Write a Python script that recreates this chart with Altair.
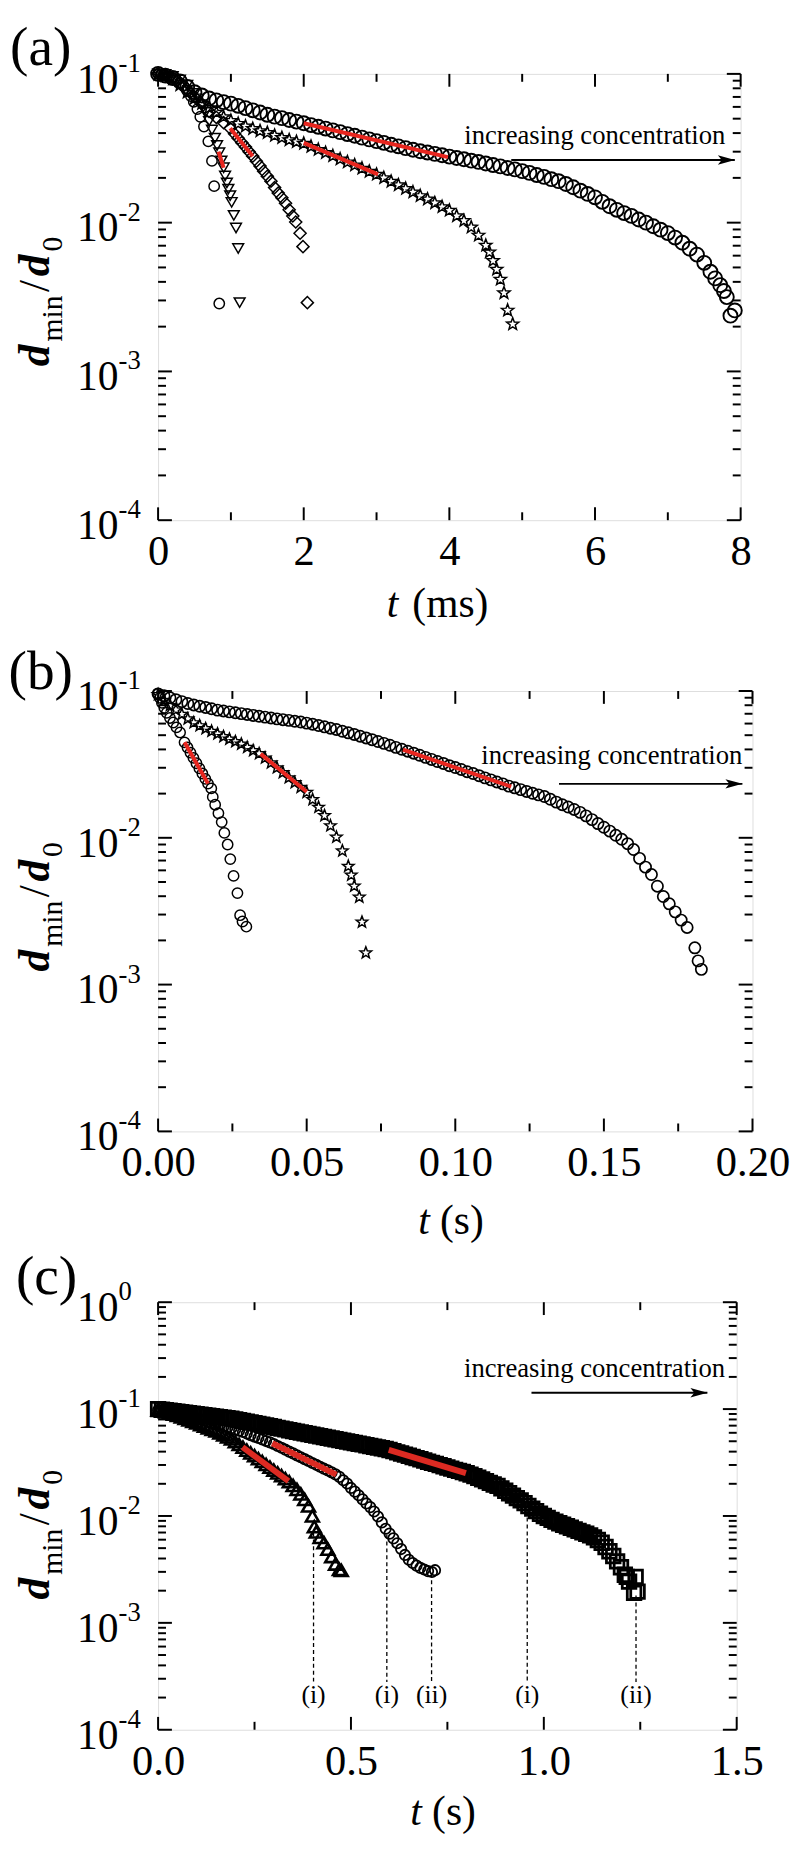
import math
import altair as alt
import pandas as pd

FONT = "Liberation Serif"

# ================= panel (a): t in ms =================
a_circ_t = [0.0, 0.05, 0.1, 0.15, 0.2, 0.25, 0.3, 0.35, 0.4, 0.45, 0.49, 0.54, 0.58, 0.63, 0.69, 0.74, 0.77, 0.84]
a_circ_d = [0.100, 0.099, 0.098, 0.096, 0.094, 0.091, 0.087, 0.083, 0.077, 0.071, 0.065, 0.058, 0.0515, 0.0443, 0.0352, 0.026, 0.0176, 0.00286]

a_tri_t = [0.0, 0.1, 0.2, 0.3, 0.4, 0.5, 0.55, 0.6, 0.65, 0.7,
           0.74, 0.78, 0.81, 0.84, 0.87, 0.9, 0.92, 0.945, 0.965, 0.99,
           1.01, 1.04, 1.07, 1.1, 1.12]
a_tri_d = [0.1, 0.099, 0.096, 0.091, 0.084, 0.074, 0.068, 0.062, 0.055, 0.048,
           0.042, 0.037, 0.033, 0.0295, 0.026, 0.0234, 0.0206, 0.0185, 0.0168, 0.0152,
           0.0137, 0.0112, 0.0092, 0.0067, 0.0029]

a_dia_t = [0.0, 0.1, 0.2, 0.3, 0.4, 0.5, 0.6, 0.7, 0.8, 0.9,
           0.99, 1.05, 1.1, 1.15, 1.2, 1.25, 1.3, 1.35, 1.4, 1.45,
           1.5, 1.55, 1.6, 1.65, 1.7, 1.75, 1.8, 1.85, 1.89, 1.95,
           1.99, 2.05]
a_dia_d = [0.1, 0.098, 0.094, 0.087, 0.079, 0.070, 0.063, 0.056, 0.051, 0.047,
           0.0431, 0.0396, 0.037, 0.0345, 0.0322, 0.030, 0.028, 0.0259, 0.024, 0.0222,
           0.0205, 0.019, 0.0172, 0.0158, 0.0147, 0.0135, 0.0122, 0.0111, 0.0101, 0.0085,
           0.0069, 0.0029]

a_star_t = [0.0, 0.1, 0.2, 0.3, 0.4, 0.5, 0.6, 0.7, 0.8, 0.9,
            1.0, 1.1, 1.2, 1.3, 1.4, 1.5, 1.6, 1.7, 1.8, 1.9,
            2.0, 2.1, 2.2, 2.3, 2.4, 2.5, 2.6, 2.7, 2.8, 2.9,
            3.0, 3.1, 3.2, 3.3, 3.4, 3.5, 3.6, 3.7, 3.8, 3.9,
            4.0, 4.1, 4.2, 4.3, 4.4, 4.5,
            4.55, 4.6, 4.65, 4.7, 4.75, 4.8, 4.87]
a_star_d = [0.1, 0.0977, 0.0933, 0.0851, 0.0759, 0.0692, 0.0638, 0.0596, 0.0556, 0.0519,
            0.049, 0.0468, 0.0449, 0.0432, 0.0417, 0.0406, 0.0389, 0.0376, 0.0363, 0.0353,
            0.0344, 0.0328, 0.0313, 0.0298, 0.0284, 0.027, 0.0258, 0.0246, 0.0234, 0.0223,
            0.0213, 0.0202, 0.0191, 0.0181, 0.0171, 0.0162, 0.0153, 0.0145, 0.0137, 0.0129,
            0.0122, 0.0112, 0.0104, 0.0094, 0.0083, 0.0071,
            0.0064, 0.0056, 0.0049, 0.0042, 0.0034, 0.0026, 0.0021]

a_big_t = [0.0, 0.1, 0.2, 0.3, 0.4, 0.5, 0.6, 0.7, 0.8, 0.9,
           1.0, 1.1, 1.2, 1.3, 1.4, 1.5, 1.6, 1.7, 1.8, 1.9,
           2.0, 2.1, 2.2, 2.3, 2.4, 2.5, 2.6, 2.7, 2.8, 2.9,
           3.0, 3.1, 3.2, 3.3, 3.4, 3.5, 3.6, 3.7, 3.8, 3.9,
           4.0, 4.1, 4.2, 4.3, 4.4, 4.5, 4.6, 4.7, 4.8, 4.9,
           5.0, 5.1, 5.2, 5.3, 5.4, 5.5, 5.6, 5.7, 5.8, 5.9,
           6.0, 6.1, 6.2, 6.3, 6.4, 6.5, 6.6, 6.7, 6.8, 6.9,
           7.0, 7.1, 7.2, 7.3, 7.4, 7.5,
           7.585, 7.65, 7.72, 7.77, 7.81, 7.86, 7.92]
a_big_d = [0.100, 0.0973, 0.0938, 0.0891, 0.0818, 0.0753, 0.0716, 0.0684, 0.0664, 0.0646,
           0.0631, 0.061, 0.0589, 0.0569, 0.055, 0.0531, 0.0516, 0.0504, 0.049, 0.0478,
           0.0466, 0.0453, 0.0441, 0.0429, 0.0417, 0.0406, 0.0394, 0.0384, 0.0373, 0.0363,
           0.0353, 0.0344, 0.0334, 0.0326, 0.0317, 0.0309, 0.0302, 0.0296, 0.029, 0.0284,
           0.0278, 0.0272, 0.0267, 0.0261, 0.0256, 0.025, 0.0244, 0.0239, 0.0233, 0.0228,
           0.0222, 0.0216, 0.0209, 0.0203, 0.0196, 0.019, 0.0182, 0.0173, 0.0164, 0.0156,
           0.0148, 0.0138, 0.0129, 0.0122, 0.0116, 0.0111, 0.0105, 0.0100, 0.00946, 0.00897,
           0.00851, 0.00794, 0.00733, 0.00668, 0.0061, 0.00537,
           0.00468, 0.00422, 0.0038, 0.00347, 0.00316, 0.00237, 0.00257]

# red fitted segments (a): start t, start d, end t, end d
a_fit_t0 = [0.83, 0.99, 2.0, 2.0]
a_fit_d0 = [0.030, 0.0431, 0.0344, 0.0466]
a_fit_t1 = [0.90, 1.30, 3.02, 3.98]
a_fit_d1 = [0.0234, 0.028, 0.0211, 0.0276]

# ================= panel (b): t in s =================
b_circ_t = [0.0, 0.0006, 0.0013, 0.0021, 0.0029, 0.0040, 0.0051, 0.0062, 0.0074, 0.0089,
            0.0099, 0.0109, 0.0119, 0.0129, 0.0139, 0.0149, 0.0159, 0.0168, 0.0179, 0.0184,
            0.0192, 0.0203, 0.0214, 0.0223, 0.0234, 0.0243, 0.0254, 0.0267, 0.0276, 0.0284,
            0.0297]
b_circ_d = [0.0955, 0.0897, 0.083, 0.0768, 0.0711, 0.0655, 0.061, 0.0565, 0.0522, 0.0447,
            0.0412, 0.038, 0.035, 0.0322, 0.0297, 0.0274, 0.0252, 0.0234, 0.0217, 0.019,
            0.0168, 0.0147, 0.0128, 0.0108, 0.009, 0.00716, 0.0055, 0.0042, 0.00297, 0.00269,
            0.00248]

b_star_t = [0.000, 0.002, 0.004, 0.006, 0.008, 0.010, 0.012, 0.014, 0.016, 0.018,
            0.020, 0.022, 0.024, 0.026, 0.028, 0.030, 0.032, 0.034, 0.036, 0.038,
            0.040, 0.042, 0.044, 0.046, 0.048, 0.050, 0.052, 0.054, 0.056, 0.058,
            0.060, 0.062, 0.064, 0.065, 0.066, 0.0677, 0.0686, 0.0699]
b_star_d = [0.0955, 0.0871, 0.0804, 0.075, 0.07, 0.0653, 0.0614, 0.0586, 0.056, 0.0537,
            0.0515, 0.0494, 0.0475, 0.0457, 0.0439, 0.0417, 0.0396, 0.0378, 0.0353, 0.0327,
            0.0303, 0.0281, 0.0259, 0.024, 0.0223, 0.0206, 0.0184, 0.0163, 0.0143, 0.0122,
            0.0102, 0.00822, 0.00646, 0.00562, 0.00473, 0.00398, 0.00269, 0.00166]

b_big_t = [0.000, 0.002, 0.004, 0.006, 0.008, 0.010, 0.012, 0.014, 0.016, 0.018,
           0.020, 0.022, 0.024, 0.026, 0.028, 0.030, 0.032, 0.034, 0.036, 0.038,
           0.040, 0.042, 0.044, 0.046, 0.048, 0.050, 0.052, 0.054, 0.056, 0.058,
           0.060, 0.062, 0.064, 0.066, 0.068, 0.070, 0.072, 0.074, 0.076, 0.078,
           0.080, 0.082, 0.084, 0.086, 0.088, 0.090, 0.092, 0.094, 0.096, 0.098,
           0.100, 0.102, 0.104, 0.106, 0.108, 0.110, 0.112, 0.114, 0.116, 0.118,
           0.120, 0.122, 0.124, 0.126, 0.128, 0.130, 0.132, 0.134, 0.136, 0.138,
           0.140, 0.142, 0.144, 0.146, 0.148, 0.150, 0.152, 0.154, 0.156, 0.158,
           0.160, 0.162, 0.164, 0.166, 0.168, 0.170, 0.172, 0.174, 0.176, 0.178,
           0.1806, 0.1817, 0.1828]
b_big_d = [0.0955, 0.0927, 0.0899, 0.0873, 0.0847, 0.0822, 0.0804, 0.0787, 0.0773, 0.0757,
           0.0741, 0.0731, 0.0721, 0.0711, 0.0701, 0.0692, 0.0682, 0.0673, 0.0664, 0.0655,
           0.0646, 0.0638, 0.0631, 0.0622, 0.0615, 0.0604, 0.0594, 0.0582, 0.057, 0.0558,
           0.0547, 0.0532, 0.0519, 0.0506, 0.0492, 0.0479, 0.0466, 0.0453, 0.044, 0.0427,
           0.0413, 0.0401, 0.0389, 0.0377, 0.0365, 0.0353, 0.0342, 0.0331, 0.0321, 0.031,
           0.0301, 0.0292, 0.0282, 0.0274, 0.0265, 0.0256, 0.0248, 0.024, 0.0233, 0.0225,
           0.0219, 0.0213, 0.0207, 0.0201, 0.0196, 0.0191, 0.0183, 0.0175, 0.0168, 0.0162,
           0.0156, 0.0149, 0.0141, 0.0133, 0.0125, 0.0118, 0.0111, 0.0104, 0.00977, 0.00912,
           0.00832, 0.00724, 0.00631, 0.00562, 0.00468, 0.00398, 0.00355, 0.00313, 0.00275, 0.00245,
           0.00178, 0.00145, 0.00127]

b_fit_t0 = [0.0089, 0.0345, 0.0824]
b_fit_d0 = [0.0447, 0.0373, 0.0399]
b_fit_t1 = [0.0168, 0.050, 0.1188]
b_fit_d1 = [0.0234, 0.0206, 0.0223]

# ================= panel (c): t in s =================
c_tri_t = [0.00, 0.01, 0.02, 0.03, 0.04, 0.05, 0.06, 0.07, 0.08, 0.09,
           0.10, 0.11, 0.12, 0.13, 0.14, 0.15, 0.16, 0.17, 0.18, 0.19,
           0.20, 0.21, 0.22, 0.23, 0.24, 0.25, 0.26, 0.27, 0.28, 0.29,
           0.30, 0.31, 0.32, 0.33, 0.34, 0.35, 0.36, 0.37, 0.38, 0.39,
           0.40, 0.405, 0.41, 0.42, 0.43, 0.44, 0.45, 0.46, 0.47, 0.475]
c_tri_d = [0.0977, 0.0959, 0.0942, 0.092, 0.0897, 0.0871, 0.0845, 0.0818, 0.0793, 0.0766,
           0.0741, 0.0716, 0.0692, 0.0668, 0.0646, 0.0624, 0.06, 0.0575, 0.055, 0.0525,
           0.0495, 0.0467, 0.044, 0.0413, 0.0389, 0.0366, 0.0344, 0.0324, 0.0304, 0.0286,
           0.0269, 0.0253, 0.0238, 0.0224, 0.0209, 0.0193, 0.0177, 0.0161, 0.0143, 0.0124,
           0.0100, 0.00794, 0.00708, 0.00631, 0.00562, 0.0049, 0.00417, 0.00355, 0.00316, 0.00309]

c_circ_t = [0.00, 0.01, 0.02, 0.03, 0.04, 0.05, 0.06, 0.07, 0.08, 0.09,
            0.10, 0.11, 0.12, 0.13, 0.14, 0.15, 0.16, 0.17, 0.18, 0.19,
            0.20, 0.21, 0.22, 0.23, 0.24, 0.25, 0.26, 0.27, 0.28, 0.29,
            0.30, 0.31, 0.32, 0.33, 0.34, 0.35, 0.36, 0.37, 0.38, 0.39,
            0.40, 0.41, 0.42, 0.43, 0.44, 0.45, 0.46, 0.47, 0.48, 0.49,
            0.50, 0.51, 0.52, 0.53, 0.54, 0.55, 0.56, 0.57, 0.58, 0.59,
            0.60, 0.61, 0.62, 0.63, 0.64, 0.65, 0.66, 0.67, 0.68, 0.69,
            0.70, 0.71, 0.718]
c_circ_d = [0.0977, 0.0962, 0.0946, 0.0931, 0.0916, 0.0902, 0.0887, 0.0873, 0.0857, 0.0839,
            0.0822, 0.0802, 0.078, 0.0759, 0.0741, 0.0724, 0.0708, 0.0692, 0.0676, 0.0661,
            0.0646, 0.0628, 0.061, 0.059, 0.0571, 0.0553, 0.0536, 0.0519, 0.0502, 0.0488,
            0.0471, 0.0452, 0.0435, 0.0417, 0.04, 0.0385, 0.0369, 0.0354, 0.034, 0.0327,
            0.0313, 0.0301, 0.0289, 0.0277, 0.0267, 0.0256, 0.0245, 0.0232, 0.0216, 0.0201,
            0.0183, 0.0169, 0.0156, 0.0143, 0.0131, 0.0121, 0.011, 0.00989, 0.00871, 0.00759,
            0.00684, 0.00617, 0.00556, 0.0049, 0.00432, 0.00389, 0.00363, 0.00343, 0.00327, 0.00316,
            0.00305, 0.00299, 0.00311]

c_sq_t = [0.00, 0.01, 0.02, 0.03, 0.04, 0.05, 0.06, 0.07, 0.08, 0.09,
          0.10, 0.11, 0.12, 0.13, 0.14, 0.15, 0.16, 0.17, 0.18, 0.19,
          0.20, 0.21, 0.22, 0.23, 0.24, 0.25, 0.26, 0.27, 0.28, 0.29,
          0.30, 0.31, 0.32, 0.33, 0.34, 0.35, 0.36, 0.37, 0.38, 0.39,
          0.40, 0.41, 0.42, 0.43, 0.44, 0.45, 0.46, 0.47, 0.48, 0.49,
          0.50, 0.51, 0.52, 0.53, 0.54, 0.55, 0.56, 0.57, 0.58, 0.59,
          0.60, 0.61, 0.62, 0.63, 0.64, 0.65, 0.66, 0.67, 0.68, 0.69,
          0.70, 0.71, 0.72, 0.73, 0.74, 0.75, 0.76, 0.77, 0.78, 0.79,
          0.80, 0.81, 0.82, 0.83, 0.84, 0.85, 0.86, 0.87, 0.88, 0.89,
          0.90, 0.91, 0.92, 0.93, 0.94, 0.95, 0.96, 0.97, 0.98, 0.99,
          1.00, 1.01, 1.02, 1.03, 1.04, 1.05, 1.06, 1.07, 1.08, 1.09,
          1.10, 1.11, 1.12, 1.13, 1.14, 1.15, 1.16, 1.17, 1.18, 1.19,
          1.20, 1.21, 1.215, 1.221, 1.234, 1.238, 1.243]
c_sq_d = [0.1, 0.0989, 0.0977, 0.0966, 0.0955, 0.0946, 0.0935, 0.0925, 0.0914, 0.0906,
          0.0895, 0.0885, 0.0875, 0.0867, 0.0857, 0.0849, 0.0839, 0.0832, 0.0822, 0.0815,
          0.0802, 0.0789, 0.0776, 0.0762, 0.075, 0.0738, 0.0726, 0.0713, 0.0702, 0.069,
          0.0679, 0.0667, 0.0656, 0.0646, 0.0634, 0.0624, 0.0614, 0.0604, 0.0594, 0.0585,
          0.0575, 0.0566, 0.0557, 0.0548, 0.054, 0.0531, 0.0522, 0.0514, 0.0506, 0.0498,
          0.049, 0.0482, 0.0474, 0.0467, 0.0459, 0.0452, 0.0444, 0.0437, 0.043, 0.0423,
          0.0414, 0.0404, 0.0394, 0.0384, 0.0375, 0.0366, 0.0356, 0.0348, 0.0339, 0.033,
          0.0322, 0.0314, 0.0307, 0.0299, 0.0292, 0.0284, 0.0277, 0.027, 0.0264, 0.0258,
          0.0251, 0.0244, 0.0236, 0.0228, 0.022, 0.0212, 0.0204, 0.0197, 0.0191, 0.0181,
          0.0172, 0.0163, 0.0155, 0.0147, 0.014, 0.0132, 0.0124, 0.0117, 0.0111, 0.0105,
          0.01, 0.0096, 0.0092, 0.00885, 0.00855, 0.00828, 0.00802, 0.00776, 0.0075, 0.00726,
          0.00703, 0.00681, 0.00658, 0.00631, 0.00596, 0.00562, 0.00513, 0.00468, 0.00422, 0.00376,
          0.00331, 0.00282, 0.00269, 0.00243, 0.00191, 0.00269, 0.00196]

c_fit_t0 = [0.219, 0.296, 0.598]
c_fit_d0 = [0.044, 0.0479, 0.0416]
c_fit_t1 = [0.338, 0.462, 0.798]
c_fit_d1 = [0.0212, 0.0244, 0.0252]

# dashed markers (c)
c_mark_t = [0.403, 0.593, 0.709, 0.957, 1.239]
c_mark_top = [0.0070, 0.0067, 0.0029, 0.0112, 0.0018]
c_mark_bot = [0.00028, 0.00028, 0.00028, 0.00028, 0.00028]
c_mark_lab = ["(i)", "(i)", "(ii)", "(i)", "(ii)"]
c_mark_laby = [0.00021, 0.00021, 0.00021, 0.00021, 0.00021]

# "increasing concentration": text right t, text baseline d, arrow t0, arrow t1, arrow d
arrow_a = [7.79, 0.0338, 4.85, 7.92, 0.0264]
arrow_b = [0.1966, 0.0318, 0.1349, 0.1966, 0.0233]
arrow_c = [1.47, 0.198, 0.968, 1.424, 0.142]

# axis ticks
a_xmaj = [0, 2, 4, 6, 8]
a_xmin = [1, 3, 5, 7]
b_xmaj = [0, 0.05, 0.10, 0.15, 0.20]
b_xmin = [0.025, 0.075, 0.125, 0.175]
c_xmaj = [0, 0.5, 1.0, 1.5]
c_xmin = [0.25, 0.75, 1.25]
ab_ydec = [1e-1, 1e-2, 1e-3, 1e-4]
ab_yexp = ["-1", "-2", "-3", "-4"]
c_ydec = [1e0, 1e-1, 1e-2, 1e-3, 1e-4]
c_yexp = ["0", "-1", "-2", "-3", "-4"]
MANT = [2, 3, 4, 5, 6, 7, 8, 9]


def minors(decs):
    out = []
    for dd in sorted(decs)[:-1]:
        for m in MANT:
            out.append(dd * m)
    return out


# ---- marker shapes ----
_st = []
for k in range(10):
    r = 1.0 if k % 2 == 0 else 0.42
    ang = math.pi * k / 5.0
    _st.append(f"{r * math.sin(ang):.3f},{-r * math.cos(ang) + 0.1:.3f}")
STAR = "M" + "L".join(_st) + "Z"
ARROWHEAD = "M-1,-0.55L1,0L-1,0.55L-0.55,0Z"


def df(t, d):
    return pd.DataFrame({"t": t, "d": d})


def build_panel(W, H, xdom, ydom, xfmt, xmaj, xmin, ydec, yexp, series, fits, fitw, fitc,
                arrow, plabel, plabel_dx, plabel_dy, ytc, xt_t, xt_rest, xt_rest_x, xt_base,
                extra=None):
    X = alt.X("t:Q", scale=alt.Scale(domain=xdom, nice=False, zero=False),
              axis=alt.Axis(values=xmaj, format=xfmt, title=None, ticks=False, domain=False,
                            grid=False, labelFont=FONT, labelFontSize=43, labelColor="black",
                            labelPadding=11, labelFlush=False, labelOverlap=False))
    Y = alt.Y("d:Q", scale=alt.Scale(type="log", domain=ydom, nice=False), axis=None)
    Y2 = alt.Y2("d2:Q")
    layers = []
    # data series
    for (t, d, shape, size, sw) in series:
        layers.append(alt.Chart(df(t, d)).mark_point(shape=shape, size=size, strokeWidth=sw,
                                                     color="black", opacity=1, filled=False)
                      .encode(x=X, y=Y))
    # fits
    fdf = pd.DataFrame({"t": fits[0] + fits[2], "d": fits[1] + fits[3],
                        "g": list(range(len(fits[0]))) * 2})
    layers.append(alt.Chart(fdf).mark_line(color=fitc, strokeWidth=fitw, strokeCap="butt")
                  .encode(x=X, y=Y, detail="g:N"))
    # ticks
    ymins = minors(ydec)
    for vals, L in ((xmaj, 13), (xmin, 8)):
        tdf = pd.DataFrame({"t": vals})
        layers.append(alt.Chart(tdf).mark_rule(color="black", strokeWidth=2)
                      .encode(x=X, y=alt.value(H), y2=alt.value(H - L)))
        layers.append(alt.Chart(tdf).mark_rule(color="black", strokeWidth=2)
                      .encode(x=X, y=alt.value(0), y2=alt.value(L)))
    for vals, L in ((ydec, 14), (ymins, 8)):
        ydf = pd.DataFrame({"d": vals})
        layers.append(alt.Chart(ydf).mark_rule(color="black", strokeWidth=2)
                      .encode(y=Y, x=alt.value(0), x2=alt.value(L)))
        layers.append(alt.Chart(ydf).mark_rule(color="black", strokeWidth=2)
                      .encode(y=Y, x=alt.value(W), x2=alt.value(W - L)))
    # y tick labels 10^n
    ldf = pd.DataFrame({"d": ydec, "e": yexp})
    layers.append(alt.Chart(ldf).mark_text(font=FONT, fontSize=42, align="right",
                                           baseline="middle", dy=6, color="black")
                  .encode(y=Y, x=alt.value(-40), text=alt.value("10")))
    layers.append(alt.Chart(ldf).mark_text(font=FONT, fontSize=27, align="left",
                                           baseline="alphabetic", dy=-2, color="black")
                  .encode(y=Y, x=alt.value(-40), text="e:N"))
    # increasing concentration text + arrow
    tdf = pd.DataFrame({"t": [arrow[0]], "d": [arrow[1]], "s": ["increasing concentration"]})
    layers.append(alt.Chart(tdf).mark_text(font=FONT, fontSize=27, align="right",
                                           baseline="alphabetic", color="black")
                  .encode(x=X, y=Y, text="s:N"))
    adf = pd.DataFrame({"t": [arrow[2]], "t2": [arrow[3]], "d": [arrow[4]]})
    layers.append(alt.Chart(adf).mark_rule(color="black", strokeWidth=2)
                  .encode(x=X, x2="t2:Q", y=Y))
    hdf = pd.DataFrame({"t": [arrow[3]], "d": [arrow[4]]})
    layers.append(alt.Chart(hdf).mark_point(shape=ARROWHEAD, size=300, filled=True, color="black",
                                            opacity=1, xOffset=-8.5)
                  .encode(x=X, y=Y))
    # extra (dashed markers)
    if extra is not None:
        mdf = pd.DataFrame({"t": extra[0], "d": extra[1], "d2": extra[2]})
        layers.append(alt.Chart(mdf).mark_rule(color="black", strokeWidth=1.3, strokeDash=[4, 3])
                      .encode(x=X, y=Y, y2=Y2))
        ndf = pd.DataFrame({"t": extra[0], "d": extra[4], "s": extra[3]})
        layers.append(alt.Chart(ndf).mark_text(font=FONT, fontSize=26, baseline="middle",
                                               align="center", color="black")
                      .encode(x=X, y=Y, text="s:N"))

    def txt(s, x, y, size, style="normal", weight="normal", angle=0):
        return (alt.Chart(pd.DataFrame({"s": [s]}))
                .mark_text(font=FONT, fontSize=size, fontStyle=style, fontWeight=weight,
                           align="left", baseline="alphabetic", angle=angle, color="black")
                .encode(text="s:N", x=alt.value(x), y=alt.value(y)))

    # panel label
    layers.append(txt(plabel, plabel_dx, plabel_dy, 56))
    # y title d_min / d_0 (rotated, reading upward)
    s0 = ytc + 66
    s_min = s0 - 25
    s_sl = s_min - 50
    s_d2 = s_sl - 16
    s_0 = s_d2 - 25
    layers.append(txt("d", -110, s0, 44, "italic", "bold", 270))
    layers.append(txt("min", -97, s_min, 30, "normal", "normal", 270))
    layers.append(txt("/", -110, s_sl, 44, "normal", "normal", 270))
    layers.append(txt("d", -110, s_d2, 44, "italic", "bold", 270))
    layers.append(txt("0", -97, s_0, 30, "normal", "normal", 270))
    # x title
    layers.append(txt("t", xt_t, xt_base, 42, "italic"))
    layers.append(txt(xt_rest, xt_rest_x, xt_base, 42))

    return alt.layer(*layers).properties(width=W, height=H)


pa = build_panel(
    590, 452, [0, 8], [1e-4, 1e-1], "d", a_xmaj, a_xmin, ab_ydec, ab_yexp,
    [(a_circ_t, a_circ_d, "circle", 110, 1.5),
     (a_tri_t, a_tri_d, "triangle-down", 120, 1.5),
     (a_dia_t, a_dia_d, "diamond", 150, 1.5),
     (a_star_t, a_star_d, STAR, 170, 1.5),
     (a_big_t, a_big_d, "circle", 200, 1.9)],
    (a_fit_t0, a_fit_d0, a_fit_t1, a_fit_d1), 4, "#e8261f",
    arrow_a, "(a)", -150, -9, 230, 231.5, "(ms)", 257.5, 550)

pb = build_panel(
    602, 446, [0, 0.2], [1e-4, 1e-1], ".2f", b_xmaj, b_xmin, ab_ydec, ab_yexp,
    [(b_circ_t, b_circ_d, "circle", 110, 1.5),
     (b_star_t, b_star_d, STAR, 150, 1.5),
     (b_big_t, b_big_d, "circle", 130, 1.7)],
    (b_fit_t0, b_fit_d0, b_fit_t1, b_fit_d1), 4, "#e8261f",
    arrow_b, "(b)", -151.5, -2, 218, 263.5, "(s)", 285.5, 550)

pc = build_panel(
    586, 433, [0, 1.5], [1e-4, 1e0], ".1f", c_xmaj, c_xmin, c_ydec, c_yexp,
    [(c_tri_t, c_tri_d, "triangle-up", 170, 2.6),
     (c_circ_t, c_circ_d, "circle", 110, 1.8),
     (c_sq_t, c_sq_d, "square", 190, 2.8)],
    (c_fit_t0, c_fit_d0, c_fit_t1, c_fit_d1), 6, "#dc2a22",
    arrow_c, "(c)", -144, -8, 235, 255.5, "(s)", 277.5, 529,
    extra=(c_mark_t, c_mark_top, c_mark_bot, c_mark_lab, c_mark_laby))

chart = (alt.vconcat(pa, pb, pc, spacing=173, bounds="flush", padding=0)
         .configure_view(stroke="black", strokeWidth=2.5)
         .configure(background="white"))

chart.save("out.html", embed_options={"renderer": "svg", "actions": False})
